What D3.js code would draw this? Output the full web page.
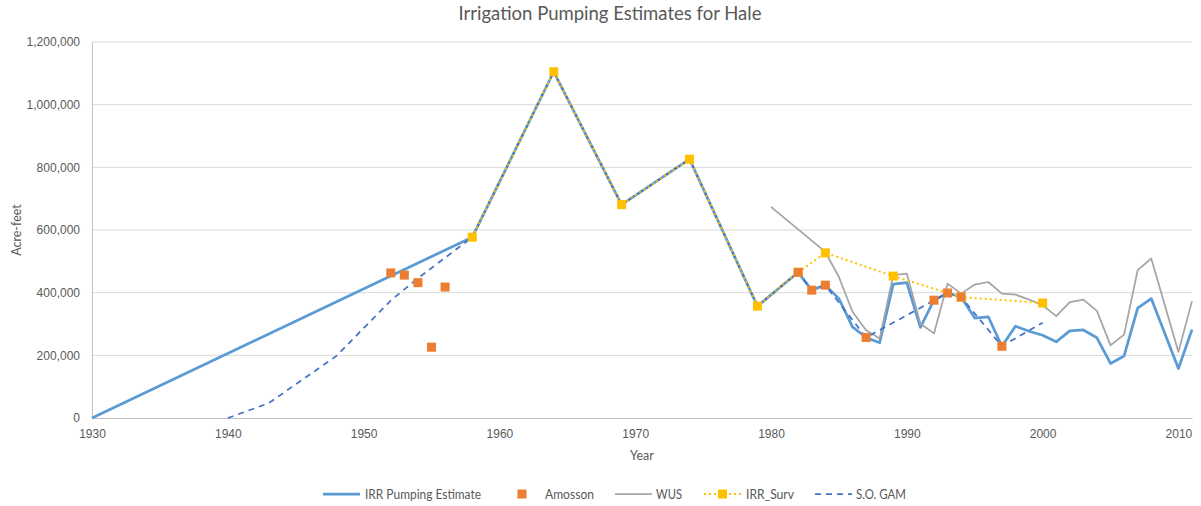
<!DOCTYPE html>
<html>
<head>
<meta charset="utf-8">
<script src="https://cdn.jsdelivr.net/npm/d3@7"></script>
<style>
  html, body { margin: 0; padding: 0; background: #fff; }
  svg { display: block; font-family: Lato, "Open Sans", sans-serif; }
</style>
</head>
<body>
<svg id="chart" width="1201" height="506"></svg>
<script>
// Irrigation pumping series (acre-feet by year)
const irrYears  = [1930, 1958, 1964, 1969, 1974, 1979, 1982, 1983, 1984, 1985, 1986, 1987, 1988, 1989, 1990, 1991, 1992, 1993, 1994, 1995, 1996, 1997, 1998, 1999, 2000, 2001, 2002, 2003, 2004, 2005, 2006, 2007, 2008, 2009, 2010, 2011];
const irrValues = [0, 577000, 1105000, 681000, 826000, 357000, 465000, 408000, 424000, 381000, 291000, 257000, 240000, 427000, 432000, 289000, 376000, 399000, 386000, 319000, 323000, 229000, 293000, 277000, 264000, 243000, 278000, 281000, 256000, 174000, 198000, 351000, 381000, 270000, 158000, 282000];

const amossonYears  = [1952, 1953, 1954, 1955, 1956, 1982, 1983, 1984, 1987, 1992, 1993, 1994, 1997];
const amossonValues = [463000, 456000, 432000, 226000, 418000, 465000, 408000, 424000, 257000, 376000, 399000, 386000, 229000];

const wusYears  = [1980, 1984, 1985, 1986, 1987, 1988, 1989, 1990, 1991, 1992, 1993, 1994, 1995, 1996, 1997, 1998, 1999, 2000, 2001, 2002, 2003, 2004, 2005, 2006, 2007, 2008, 2009, 2010, 2011];
const wusValues = [674000, 530000, 450000, 339000, 280000, 254000, 456000, 461000, 301000, 270000, 429000, 397000, 426000, 434000, 397000, 394000, 378000, 360000, 325000, 370000, 378000, 342000, 232000, 266000, 472000, 509000, 360000, 211000, 373000];

const survYears  = [1958, 1964, 1969, 1974, 1979, 1982, 1984, 1989, 1994, 2000];
const survValues = [577000, 1105000, 681000, 826000, 357000, 465000, 527000, 453000, 386000, 367000];

const gamYears  = [1940, 1943, 1948, 1952, 1954, 1958, 1964, 1969, 1974, 1979, 1982, 1983, 1984, 1987, 1993, 1994, 1997, 2000];
const gamValues = [0, 47000, 198000, 375000, 446000, 577000, 1105000, 681000, 826000, 357000, 465000, 408000, 424000, 257000, 399000, 386000, 229000, 304000];

const yearTicks  = [1930, 1940, 1950, 1960, 1970, 1980, 1990, 2000, 2010];
const valueTicks = [0, 200000, 400000, 600000, 800000, 1000000, 1200000];

const legendLabels = ["IRR Pumping Estimate", "Amosson", "WUS", "IRR_Surv", "S.O. GAM"];

const zip = (xs, ys) => xs.map((x, i) => ({ x, y: ys[i] }));

const svg = d3.select("#chart");
const textColor = "#595959";

const x = d3.scaleLinear().domain([1930, 2011]).range([92, 1192]);
const y = d3.scaleLinear().domain([0, 1200000]).range([418, 42]);

// Horizontal gridlines
svg.append("g")
  .selectAll("line")
  .data(valueTicks.filter(v => v > 0))
  .join("line")
  .attr("x1", x.range()[0]).attr("x2", x.range()[1])
  .attr("y1", d => y(d)).attr("y2", d => y(d))
  .attr("stroke", "#d9d9d9").attr("stroke-width", 1);

// Y axis
const yAxis = svg.append("g")
  .attr("transform", `translate(${x.range()[0]},0)`)
  .call(d3.axisLeft(y).tickValues(valueTicks).tickFormat(d3.format(",")).tickSize(0).tickPadding(12));
yAxis.select(".domain").attr("stroke", "#bfbfbf");
yAxis.selectAll("text").attr("fill", textColor).style("font-size", "12px");

// X axis
const xAxis = svg.append("g")
  .attr("transform", `translate(0,${y(0)})`)
  .call(d3.axisBottom(x).tickValues(yearTicks).tickFormat(d3.format("d")).tickSize(0).tickPadding(11));
xAxis.select(".domain").attr("stroke", "#bfbfbf");
xAxis.selectAll("text").attr("fill", textColor).style("font-size", "12px");

// Titles
svg.append("text")
  .attr("x", 610).attr("y", 20)
  .attr("text-anchor", "middle")
  .attr("fill", textColor)
  .style("font-size", "18.5px")
  .text("Irrigation Pumping Estimates for Hale");

svg.append("text")
  .attr("x", 642).attr("y", 460)
  .attr("text-anchor", "middle")
  .attr("fill", textColor)
  .style("font-size", "12.5px")
  .text("Year");

svg.append("text")
  .attr("transform", "translate(21,230) rotate(-90)")
  .attr("text-anchor", "middle")
  .attr("fill", textColor)
  .style("font-size", "12.5px")
  .text("Acre-feet");

const line = d3.line().x(d => x(d.x)).y(d => y(d.y));

const styles = {
  irr:  { color: "#5b9bd5", width: 2.75, dash: null },
  wus:  { color: "#a5a5a5", width: 1.75, dash: null },
  gam:  { color: "#4472c4", width: 1.75, dash: "6,5" },
  surv: { color: "#ffc000", width: 2, dash: "2,3" }
};

const plot = svg.append("g");

function drawLine(data, s) {
  plot.append("path")
    .datum(data)
    .attr("d", line)
    .attr("fill", "none")
    .attr("stroke", s.color)
    .attr("stroke-width", s.width)
    .attr("stroke-linejoin", "round")
    .attr("stroke-dasharray", s.dash);
}

drawLine(zip(irrYears, irrValues), styles.irr);
drawLine(zip(wusYears, wusValues), styles.wus);
drawLine(zip(gamYears, gamValues), styles.gam);
drawLine(zip(survYears, survValues), styles.surv);

const markerSize = 9;
function drawMarkers(data, color) {
  plot.append("g")
    .selectAll("rect")
    .data(data)
    .join("rect")
    .attr("x", d => x(d.x) - markerSize / 2)
    .attr("y", d => y(d.y) - markerSize / 2)
    .attr("width", markerSize).attr("height", markerSize)
    .attr("fill", color);
}
drawMarkers(zip(survYears, survValues), "#ffc000");
drawMarkers(zip(amossonYears, amossonValues), "#ed7d31");

// Legend
const legend = svg.append("g").attr("transform", "translate(0,494)");
const legendItems = [
  { label: legendLabels[0], x: 323, tx: 365, w: 116, kind: "line", s: styles.irr },
  { label: legendLabels[1], x: 522, tx: 545, w: 49, kind: "marker", color: "#ed7d31" },
  { label: legendLabels[2], x: 615, tx: 656, w: 26, kind: "line", s: styles.wus },
  { label: legendLabels[3], x: 704, tx: 746, w: 48, kind: "lineMarker", s: styles.surv },
  { label: legendLabels[4], x: 815, tx: 856, w: 50, kind: "line", s: styles.gam }
];
const legendLine = 37;
legendItems.forEach(it => {
  const g = legend.append("g");
  if (it.kind === "line" || it.kind === "lineMarker") {
    g.append("line")
      .attr("x1", it.x).attr("x2", it.x + legendLine).attr("y1", 0).attr("y2", 0)
      .attr("stroke", it.s.color).attr("stroke-width", it.s.width)
      .attr("stroke-dasharray", it.s.dash);
  }
  if (it.kind === "lineMarker") {
    g.append("rect").attr("x", it.x + legendLine / 2 - 4.5).attr("y", -4.5).attr("width", 9).attr("height", 9).attr("fill", it.s.color);
  }
  if (it.kind === "marker") {
    g.append("rect").attr("x", it.x - 4.5).attr("y", -4.5).attr("width", 9).attr("height", 9).attr("fill", it.color);
  }
  g.append("text")
    .attr("x", it.tx)
    .attr("y", 4.5)
    .attr("fill", textColor)
    .attr("textLength", it.w)
    .attr("lengthAdjust", "spacingAndGlyphs")
    .style("font-size", "12.5px")
    .text(it.label);
});
</script>
</body>
</html>
